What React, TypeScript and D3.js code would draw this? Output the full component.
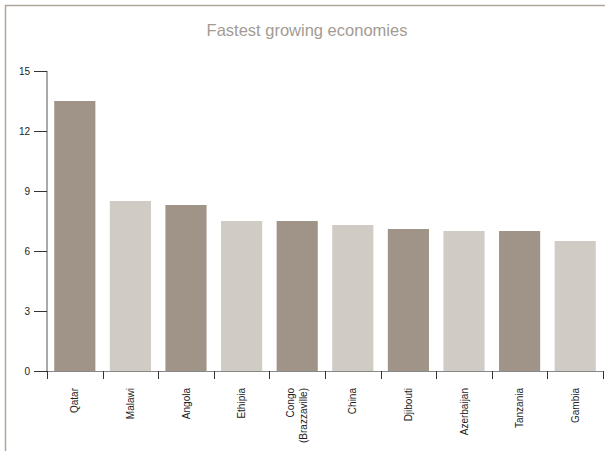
import React from "react";
import * as d3 from "d3";

const categories: string[][] = [
  ["Qatar"], ["Malawi"], ["Angola"], ["Ethipia"], ["Congo", "(Brazzaville)"],
  ["China"], ["Djibouti"], ["Azerbaijan"], ["Tanzania"], ["Gambia"],
];
const values: number[] = [13.5, 8.5, 8.3, 7.5, 7.5, 7.3, 7.1, 7.0, 7.0, 6.5];
const yTicks: number[] = [0, 3, 6, 9, 12, 15];
const title = "Fastest growing economies";
const colors = ["#a09488", "#d0ccc5"];

export default function App() {
  const W = 605, H = 451;
  const x0 = 47, x1 = 603, yTop = 71, yBot = 371;
  const ids = categories.map((_, i) => String(i));
  const x = d3.scaleBand<string>().domain(ids).range([x0, x1]).paddingInner(0.26).paddingOuter(0.13);
  const y = d3.scaleLinear().domain([0, 15]).range([yBot, yTop]);
  const font = "Liberation Sans, Arial, sans-serif";
  const step = x.step();
  return (
    <svg width={W} height={H} style={{ position: "absolute", left: 0, top: 0 }} fontFamily={font}>
      <rect x={0} y={0} width={W} height={H} fill="#fff" />
      <line x1={5} x2={W} y1={5.5} y2={5.5} stroke="#b0a69c" strokeWidth={1.5} />
      <line x1={5.5} x2={5.5} y1={5} y2={H} stroke="#b0a69c" strokeWidth={1.5} />
      <text x={307} y={36} textAnchor="middle" fontSize={16.5} fill="#a39b94">{title}</text>
      {values.map((v, i) => (
        <rect key={i} x={x(ids[i])} y={y(v)} width={x.bandwidth()} height={y(0) - y(v)} fill={colors[i % 2]} />
      ))}
      <line x1={x0} x2={x0} y1={yTop} y2={yBot} stroke="#555" strokeWidth={1} />
      {yTicks.map((t) => (
        <g key={t}>
          <line x1={34} x2={x0} y1={y(t) + 0.5} y2={y(t) + 0.5} stroke="#333" strokeWidth={1} />
          <text x={30} y={y(t) + 3.5} textAnchor="end" fontSize={10} fill="#222">{t}</text>
        </g>
      ))}
      <line x1={x0} x2={x1} y1={yBot + 0.5} y2={yBot + 0.5} stroke="#888" strokeWidth={1} />
      {d3.range(categories.length + 1).map((i) => {
        const xx = Math.round(x0 + (i) * step) + 0.5;
        return <line key={i} x1={xx} x2={xx} y1={yBot} y2={yBot + 8} stroke="#333" strokeWidth={1} />;
      })}
      {categories.map((lines, i) => {
        const cx = (x(ids[i]) as number) + x.bandwidth() / 2;
        return (
          <g key={i} transform={`translate(${cx},388) rotate(-90)`}>
            {lines.map((l, j) => (
              <text key={j} x={0} y={3.5 + (j - (lines.length - 1) / 2) * 12.5} textAnchor="end" fontSize={10} fill="#222">{l}</text>
            ))}
          </g>
        );
      })}
    </svg>
  );
}
